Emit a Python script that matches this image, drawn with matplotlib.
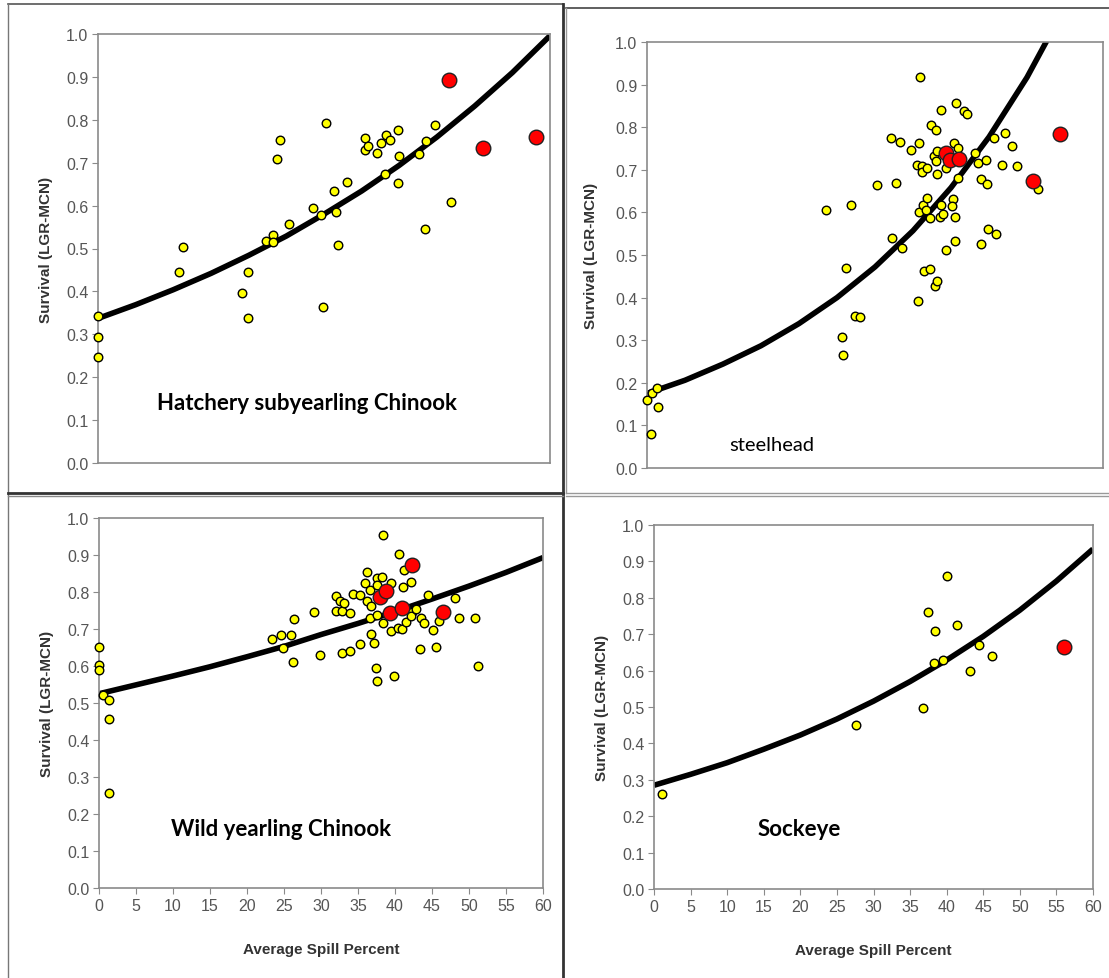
import matplotlib
matplotlib.use("Agg")
import matplotlib.pyplot as plt
from matplotlib.lines import Line2D

# ---- data ----
# Hatchery subyearling Chinook
hat_x = [0, 0, 0, 10.8, 11.3, 19.1, 19.9, 19.9, 22.3, 23.2, 23.2, 23.7, 24.1, 25.4,
         28.5, 29.6, 29.9, 30.2, 31.3, 31.6, 31.9, 33.1, 35.4, 35.4, 35.9, 37.1, 37.5,
         38.2, 38.8, 38.1, 39.8, 40.0, 39.8, 42.6, 43.6, 43.4, 44.8, 46.9]
hat_y = [0.343, 0.293, 0.246, 0.445, 0.503, 0.396, 0.445, 0.338, 0.517, 0.532, 0.514,
         0.709, 0.752, 0.556, 0.594, 0.579, 0.363, 0.792, 0.633, 0.584, 0.509, 0.656,
         0.757, 0.730, 0.739, 0.723, 0.747, 0.765, 0.754, 0.674, 0.777, 0.715, 0.652,
         0.721, 0.750, 0.545, 0.788, 0.608]
hat_red_x = [46.6, 51.1, 58.1]
hat_red_y = [0.893, 0.735, 0.760]
hat_fit_y = [0.337, 0.369, 0.404, 0.442, 0.484, 0.529, 0.580, 0.634, 0.694, 0.760,
             0.832, 0.910, 0.996]

# steelhead
stl_x = [0, 0.5, 0.6, 1.3, 1.5, 23.5, 26.2, 26.9, 25.7, 25.8, 27.4, 28.0, 30.3, 32.1,
         32.2, 32.7, 33.3, 33.5, 34.7, 35.5, 35.8, 35.9, 36.2, 36.2, 35.7, 35.8, 36.3,
         36.8, 36.7, 36.8, 36.4, 37.2, 37.3, 37.4, 38.0, 37.8, 38.0, 38.2, 38.2, 37.9,
         38.1, 38.7, 38.5, 38.7, 39.0, 39.4, 39.4, 39.7, 40.3, 40.4, 40.5, 40.5, 40.7,
         40.9, 40.9, 41.7, 42.1, 43.2, 43.6, 43.9, 44.0, 44.6, 44.8, 44.9, 45.6, 45.9,
         46.7, 47.1, 48.0, 48.7, 51.5, 40.1]
stl_y = [0.159, 0.080, 0.177, 0.188, 0.143, 0.605, 0.469, 0.617, 0.307, 0.266, 0.357,
         0.354, 0.665, 0.775, 0.541, 0.670, 0.766, 0.516, 0.746, 0.712, 0.764, 0.917,
         0.710, 0.696, 0.391, 0.602, 0.618, 0.633, 0.605, 0.705, 0.463, 0.467, 0.586,
         0.806, 0.794, 0.733, 0.720, 0.744, 0.690, 0.427, 0.438, 0.841, 0.590, 0.618,
         0.596, 0.705, 0.512, 0.723, 0.631, 0.763, 0.590, 0.534, 0.857, 0.752, 0.681,
         0.837, 0.831, 0.739, 0.715, 0.678, 0.525, 0.724, 0.667, 0.560, 0.775, 0.550,
         0.711, 0.786, 0.756, 0.708, 0.655, 0.616]
stl_red_x = [39.4, 39.9, 41.0, 50.8, 54.3]
stl_red_y = [0.740, 0.722, 0.726, 0.674, 0.785]
stl_fit_y = [0.175, 0.206, 0.244, 0.287, 0.339, 0.400, 0.472, 0.557, 0.658, 0.777,
             0.917, 1.082, 1.28]

# Wild yearling Chinook
wyc_x = [0, 0, 0, 0.5, 1.3, 1.4, 1.4, 23.4, 24.6, 24.9, 26.0, 26.2, 26.4, 29.1, 29.9,
         32.0, 32.0, 32.5, 32.8, 33.1, 32.8, 33.9, 33.9, 34.3, 35.3, 35.3, 35.9, 36.2,
         36.2, 36.6, 36.6, 36.7, 36.8, 37.1, 37.4, 37.5, 37.5, 37.6, 37.5, 38.3, 38.4,
         38.4, 39.4, 39.5, 39.9, 40.5, 40.4, 40.9, 41.1, 41.2, 41.5, 42.1, 42.3, 42.1,
         42.8, 43.5, 43.4, 43.9, 44.4, 45.1, 45.5, 46.0, 48.1, 48.7, 50.8, 51.2]
wyc_y = [0.652, 0.604, 0.590, 0.522, 0.507, 0.458, 0.258, 0.672, 0.685, 0.648, 0.683,
         0.612, 0.726, 0.747, 0.629, 0.788, 0.749, 0.777, 0.749, 0.770, 0.636, 0.744,
         0.641, 0.795, 0.791, 0.659, 0.824, 0.855, 0.776, 0.805, 0.729, 0.687, 0.762,
         0.662, 0.594, 0.559, 0.837, 0.818, 0.737, 0.841, 0.955, 0.716, 0.824, 0.694,
         0.574, 0.902, 0.703, 0.701, 0.813, 0.859, 0.719, 0.827, 0.746, 0.734, 0.753,
         0.730, 0.645, 0.717, 0.793, 0.698, 0.652, 0.721, 0.783, 0.729, 0.731, 0.600]
wyc_red_x = [42.3, 38.0, 38.8, 39.3, 41.0, 46.5]
wyc_red_y = [0.872, 0.786, 0.803, 0.744, 0.758, 0.745]
wyc_fit_y = [0.525, 0.549, 0.573, 0.598, 0.625, 0.653, 0.685, 0.715, 0.747, 0.781,
             0.816, 0.853, 0.893]

# Sockeye
sck_x = [1.1, 27.6, 36.8, 37.5, 38.4, 38.3, 39.5, 40.0, 41.4, 43.2, 44.4, 46.2]
sck_y = [0.261, 0.450, 0.498, 0.761, 0.709, 0.622, 0.629, 0.859, 0.725, 0.600, 0.670, 0.640]
sck_red_x = [56.0]
sck_red_y = [0.666]
sck_fit_y = [0.285, 0.315, 0.347, 0.384, 0.423, 0.467, 0.516, 0.570, 0.629, 0.694,
             0.766, 0.846, 0.934]

fit_x = [0, 5, 10, 15, 20, 25, 30, 35, 40, 45, 50, 55, 60]

W, H = 1109, 979
fig = plt.figure(figsize=(W / 100, H / 100), dpi=100)
fig.patch.set_facecolor("white")
plt.rcParams["font.family"] = ["Liberation Sans", "DejaVu Sans"]

tick_col = "#555555"
spine_col = "#8a8a8a"


def px_axes(x0, y0, x1, y1):
    return fig.add_axes([x0 / W, 1 - y1 / H, (x1 - x0) / W, (y1 - y0) / H])


def setup(ax, xticks_on, ypad):
    ax.set_xlim(0, 60)
    ax.set_ylim(0, 1.0)
    ax.set_yticks([i / 10 for i in range(11)])
    ax.set_yticklabels(["%.1f" % (i / 10) for i in range(11)])
    for s in ax.spines.values():
        s.set_color(spine_col)
        s.set_linewidth(1.2)
    ax.tick_params(axis="y", direction="out", length=4, color=spine_col,
                   labelcolor=tick_col, labelsize=11.5, pad=3)
    if xticks_on:
        ax.set_xticks(range(0, 61, 5))
        ax.tick_params(axis="x", direction="out", length=4, color=spine_col,
                       labelcolor=tick_col, labelsize=11.5, pad=3)
        ax.set_xlabel("Average Spill Percent", fontsize=11, fontweight="bold",
                      color="#333333", labelpad=21)
    else:
        ax.set_xticks([])
    ax.set_ylabel("Survival (LGR-MCN)", fontsize=11, fontweight="bold",
                  color="#333333", labelpad=ypad)


def draw(ax, x, y, rx, ry, fy):
    ax.plot(fit_x, fy, color="black", lw=4, solid_capstyle="butt", zorder=2)
    ax.scatter(x, y, s=38, c="#ffff00", edgecolors="black", linewidths=1, zorder=3,
               clip_on=False)
    ax.scatter(rx, ry, s=110, c="#ff0000", edgecolors="#222222", linewidths=1, zorder=4,
               clip_on=False)


ax1 = px_axes(98, 35, 550, 464)
setup(ax1, False, 9)
draw(ax1, hat_x, hat_y, hat_red_x, hat_red_y, hat_fit_y)
ax1.text(27.7, 0.14, "Hatchery subyearling Chinook", ha="center", va="center",
         fontsize=16, fontweight="bold", family="Lato")

ax2 = px_axes(647, 43, 1103, 469)
setup(ax2, False, 12.5)
draw(ax2, stl_x, stl_y, stl_red_x, stl_red_y, stl_fit_y)
ax2.text(10.8, 0.056, "steelhead", ha="left", va="center", fontsize=14.5, family="Lato")

ax3 = px_axes(99, 519, 543, 889)
setup(ax3, True, 9)
draw(ax3, wyc_x, wyc_y, wyc_red_x, wyc_red_y, wyc_fit_y)
ax3.text(24.6, 0.16, "Wild yearling Chinook", ha="center", va="center",
         fontsize=16, fontweight="bold", family="Lato")

ax4 = px_axes(654, 526, 1093, 890)
setup(ax4, True, 9.5)
draw(ax4, sck_x, sck_y, sck_red_x, sck_red_y, sck_fit_y)
ax4.text(14.1, 0.165, "Sockeye", ha="left", va="center",
         fontsize=16, fontweight="bold", family="Lato")


# panel borders
def hline(y, x0, x1, c, lw):
    fig.add_artist(Line2D([x0 / W, x1 / W], [1 - y / H, 1 - y / H], color=c, lw=lw))


def vline(x, y0, y1, c, lw):
    fig.add_artist(Line2D([x / W, x / W], [1 - y0 / H, 1 - y1 / H], color=c, lw=lw))


hline(5, 8, 563, "#555555", 1.2)
vline(8, 5, 979, "#777777", 1.0)
vline(563, 5, 979, "#333333", 2.0)
hline(494, 8, 563, "#333333", 2.0)
hline(497, 8, 563, "#888888", 1.0)
hline(9, 566, 1109, "#444444", 1.2)
vline(566, 9, 494, "#999999", 1.0)
hline(494, 566, 1109, "#999999", 1.0)
hline(497, 566, 1109, "#999999", 1.0)

fig.savefig("out.png", dpi=100)
